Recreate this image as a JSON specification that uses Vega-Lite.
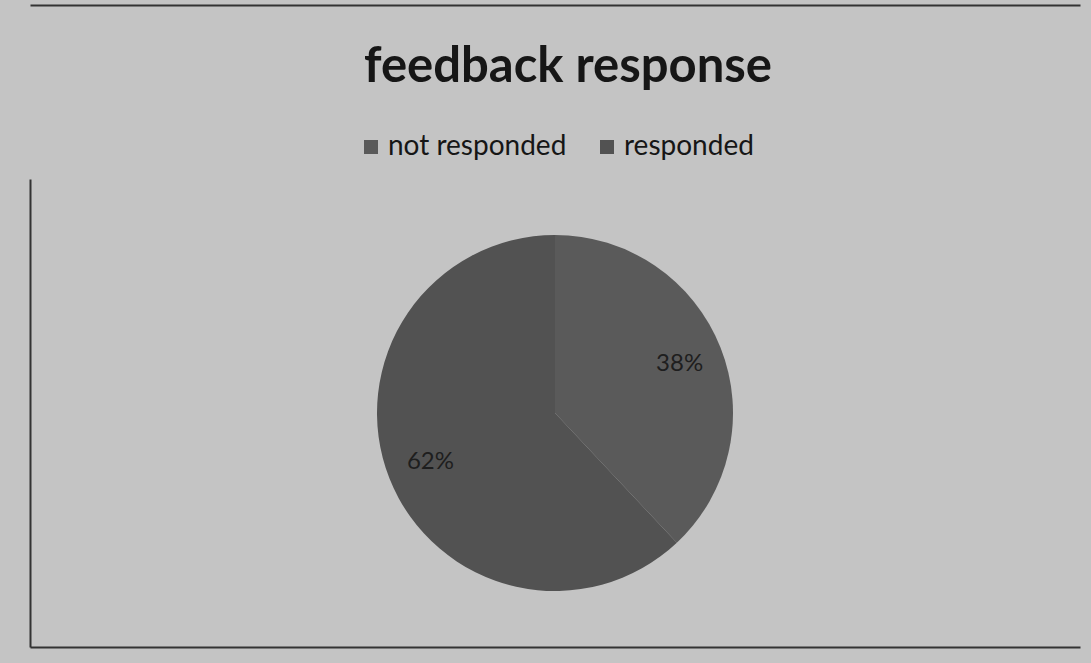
{
  "$schema": "https://vega.github.io/schema/vega-lite/v6.json",
  "width": 1050,
  "height": 468,
  "padding": {"left": 27, "right": 13, "top": 5, "bottom": 14},
  "background": "#c4c4c4",
  "title": {
    "text": "feedback response",
    "font": "Lato",
    "fontSize": 49,
    "fontWeight": "bold",
    "color": "#161616",
    "anchor": "middle",
    "dx": 13,
    "offset": -87
  },
  "data": {
    "values": [
      {"status": "not responded", "share": 38, "label": "38%", "order": 1},
      {"status": "responded", "share": 62, "label": "62%", "order": 2}
    ]
  },
  "layer": [
    {
      "mark": {"type": "arc", "outerRadius": 178},
      "encoding": {
        "theta": {"field": "share", "type": "quantitative", "stack": true},
        "order": {"field": "order", "type": "quantitative"},
        "color": {
          "field": "status",
          "type": "nominal",
          "scale": {"domain": ["not responded", "responded"], "range": ["#5a5a5a", "#525252"]},
          "legend": {
            "orient": "top",
            "title": null,
            "offset": -156,
            "labelFont": "Lato",
            "labelFontSize": 28,
            "labelColor": "#161616",
            "labelLimit": 0,
            "symbolType": "square",
            "symbolSize": 196,
            "symbolStrokeWidth": 0,
            "columnPadding": 26,
            "labelOffset": 3
          }
        }
      }
    },
    {
      "mark": {"type": "text", "radius": 134, "font": "Lato", "fontSize": 24, "color": "#1e1e1e"},
      "encoding": {
        "theta": {"field": "share", "type": "quantitative", "stack": true},
        "order": {"field": "order", "type": "quantitative"},
        "text": {"field": "label", "type": "nominal"}
      }
    },
    {
      "data": {"values": [{"fx": 0, "fy": 0}]},
      "mark": {"type": "point", "opacity": 0},
      "encoding": {
        "x": {
          "field": "fx", "type": "quantitative",
          "scale": {"domain": [0, 1]},
          "axis": {"orient": "bottom", "domain": true, "domainColor": "#333333", "domainWidth": 2, "ticks": false, "labels": false, "grid": false, "title": null}
        },
        "y": {
          "field": "fy", "type": "quantitative",
          "scale": {"domain": [0, 1]},
          "axis": {"domain": true, "domainColor": "#333333", "domainWidth": 2, "ticks": false, "labels": false, "grid": false, "title": null}
        }
      }
    },
    {
      "data": {"values": [{"fx": 0}]},
      "mark": {"type": "point", "opacity": 0},
      "encoding": {
        "x": {
          "field": "fx", "type": "quantitative",
          "scale": {"domain": [0, 1]},
          "axis": {"orient": "top", "offset": 174, "domain": true, "domainColor": "#333333", "domainWidth": 2, "ticks": false, "labels": false, "grid": false, "title": null}
        }
      }
    }
  ],
  "resolve": {"axis": {"x": "independent"}},
  "config": {
    "view": {"stroke": null},
    "legend": {"layout": {"top": {"anchor": "middle"}}}
  }
}
